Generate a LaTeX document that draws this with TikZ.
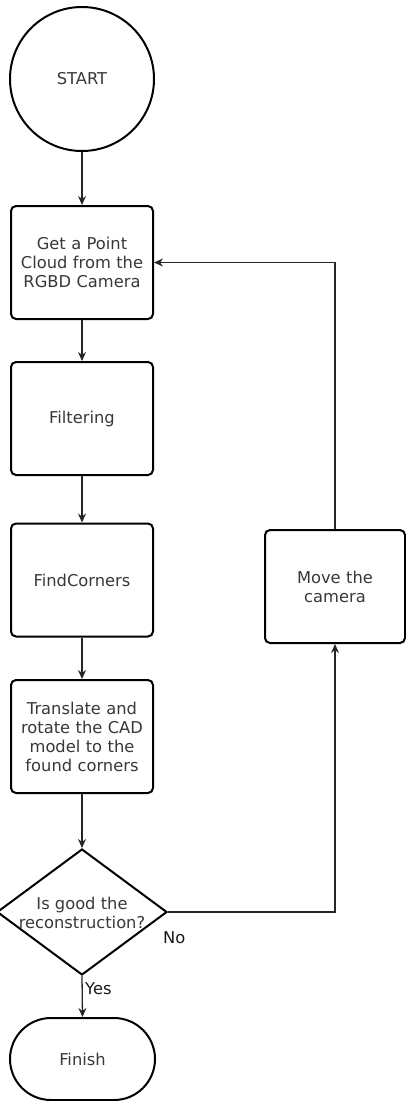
\documentclass[tikz,border=0pt]{standalone}
\usepackage{fontspec}
\setmainfont{DejaVu Sans}
\usetikzlibrary{shapes.geometric,arrows.meta,positioning}

\tikzset{
  every node/.style={font=\fontsize{16.3}{19}\selectfont, text=black!78},
  flowbox/.style={draw=black, line width=2pt, rounded corners=5pt, fill=white,
    minimum width=142pt, minimum height=113pt, inner sep=2pt, align=center,
    text width=136pt},
  startcircle/.style={draw=black, line width=2pt, circle, minimum size=144pt, inner sep=0pt},
  decision/.style={draw=black, line width=2pt, diamond, minimum width=170pt,
    minimum height=126pt, inner sep=0pt},
  terminal/.style={draw=black, line width=2pt, rounded corners=41pt,
    minimum width=145pt, minimum height=82pt, inner sep=0pt},
  flow/.style={draw=black!85, line width=1.3pt, -{Stealth[length=9pt,width=8pt]}},
  branch/.style={text=black!90, inner sep=1pt}
}

\begin{document}
\begin{tikzpicture}[x=1pt, y=-1pt]
  \useasboundingbox (0,0) rectangle (406,1101);

  % main column
  \node[startcircle] (start) at (82,79) {START};
  \node[flowbox] (cloud) at (82,262.5) {Get a Point\\Cloud from the\\RGBD Camera};
  \node[flowbox] (filter) at (82,418.5) {Filtering};
  \node[flowbox] (corners) at (82,580) {FindCorners};
  \node[flowbox] (align) at (82,736.5) {Translate and\\rotate the CAD\\model to the\\found corners};
  \node[decision] (check) at (82,912) {};
  \node[align=center, inner sep=0pt] (checktext) at (82,913) {Is good the\\reconstruction?};
  \node[terminal] (finish) at (82.5,1059) {Finish};

  % side branch
  \node[flowbox, minimum width=140pt, text width=134pt] (move) at (335,586.5) {Move the\\camera};

  % connectors
  \draw[flow] (start) -- (cloud);
  \draw[flow] (cloud) -- (filter);
  \draw[flow] (filter) -- (corners);
  \draw[flow] (corners) -- (align);
  \draw[flow] (align) -- (check.north);
  \draw[flow] (check.south) -- (finish.north);
  \draw[flow] (check.east) -- (move.south |- check.east) -- (move.south);
  \draw[flow] (move.north) -- (move.north |- cloud.east) -- (cloud.east);

  % branch labels
  \node[branch, anchor=west] (yes) at (84,989) {Yes};
  \node[branch, anchor=west] (no) at (162,938) {No};
\end{tikzpicture}
\end{document}
